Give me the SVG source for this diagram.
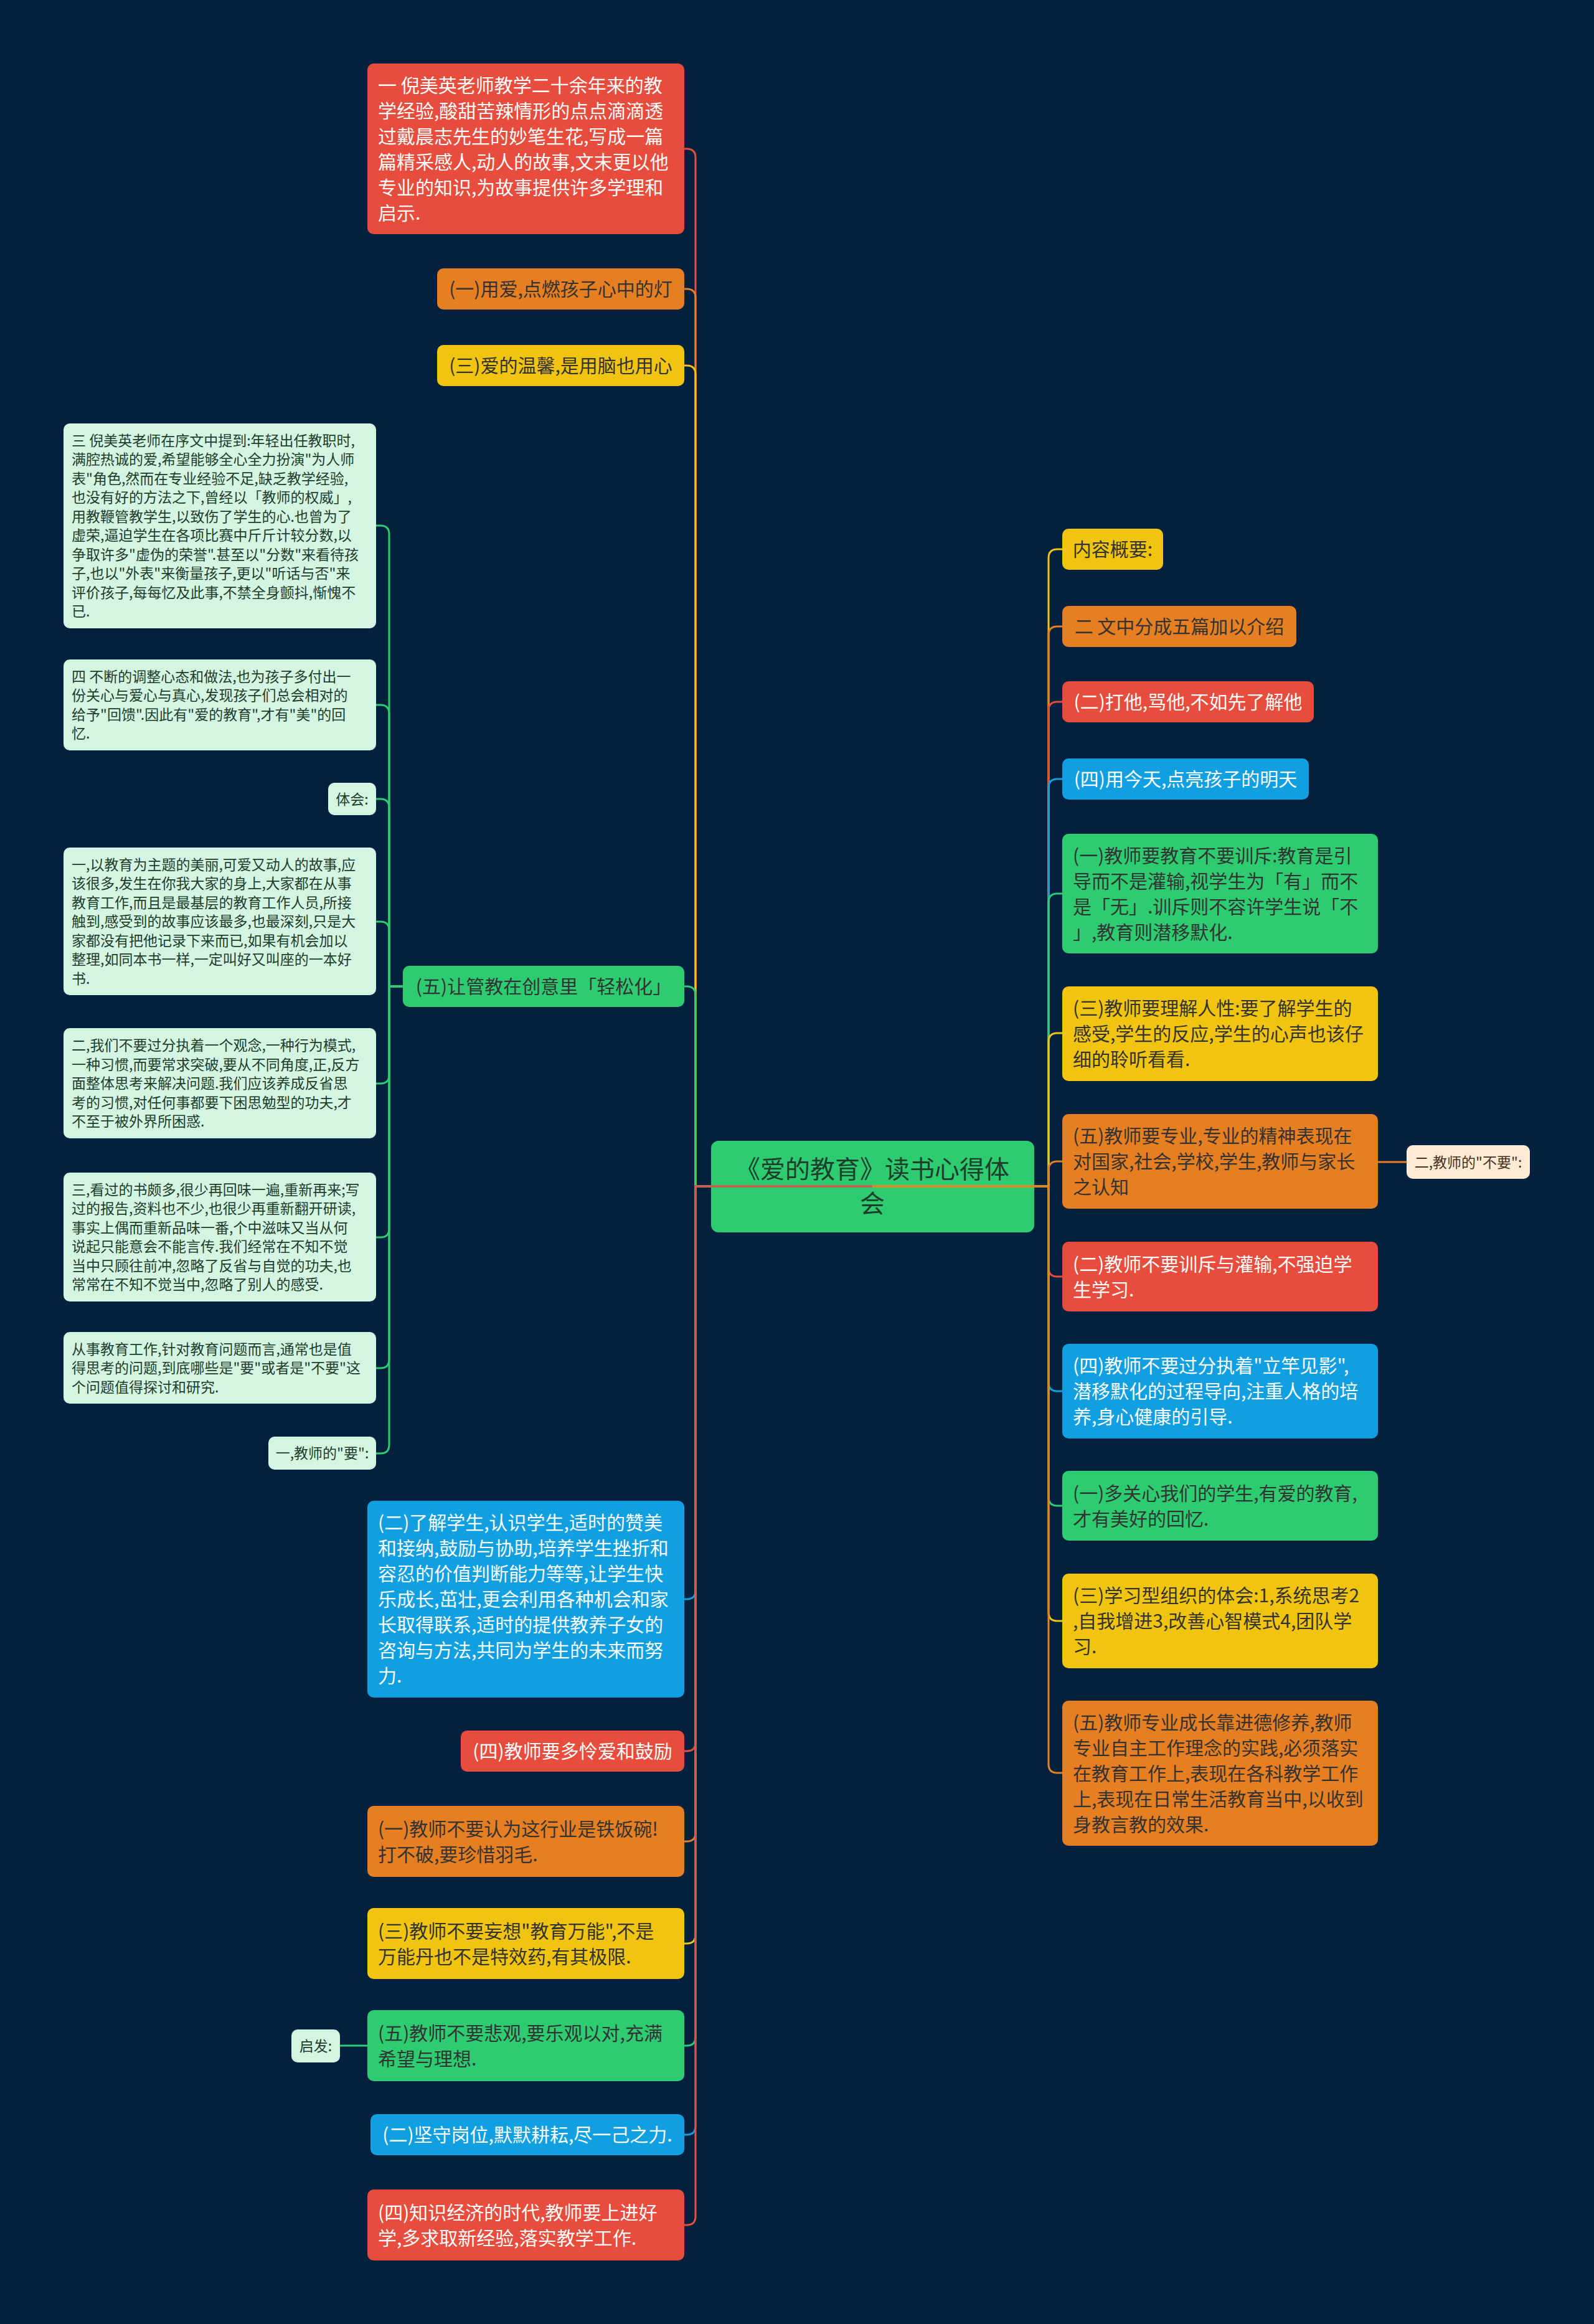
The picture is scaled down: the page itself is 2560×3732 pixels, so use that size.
<svg xmlns="http://www.w3.org/2000/svg" width="2560" height="3732" viewBox="0 0 2560 3732">
<style>
text { font-family: "Noto Sans CJK SC", "Noto Sans", sans-serif; }
.t30 { font-size: 30px; }
.t23 { font-size: 23px; }
.t40 { font-size: 40px; }
.w { fill: #ffffff; }
.d { fill: #333333; }
.g { fill: #1e3d2b; }
.p { fill: #4a3020; }
.red { fill: #e74c3c; }
.ora { fill: #e67e22; }
.yel { fill: #f1c40f; }
.grn { fill: #2ecc71; }
.blu { fill: #109fe0; }
.lg { fill: #d5f5e3; }
.pe { fill: #fdebd4; }
.c { fill: none; stroke-width: 3; }
.cr { stroke: #e74c3c; }
.co { stroke: #e67e22; }
.cy { stroke: #f1c40f; }
.cg { stroke: #2ecc71; }
.cb { stroke: #109fe0; }
.mid { text-anchor: middle; }
</style>
<rect x="0" y="0" width="2560" height="3732" fill="#03213f"/>

<g id="root">
<rect class="grn" x="1142" y="1832" width="519" height="147" rx="12"/>
<text class="t40 g mid" x="1401" y="1892">《爱的教育》读书心得体</text>
<text class="t40 g mid" x="1401" y="1947">会</text>
</g>

<g id="connectors">
<path class="c cr" d="M1401 1905 H1117 V253 Q1117 239 1103 239 H1099"/>
<path class="c co" d="M1401 1905 H1117 V478 Q1117 464 1103 464 H1099"/>
<path class="c cy" d="M1401 1905 H1117 V601 Q1117 587 1103 587 H1099"/>
<path class="c cg" d="M1401 1905 H1117 V1598 Q1117 1584 1103 1584 H1099"/>
<path class="c cb" d="M1401 1905 H1117 V2554 Q1117 2568 1103 2568 H1099"/>
<path class="c cr" d="M1401 1905 H1117 V2798 Q1117 2812 1103 2812 H1099"/>
<path class="c co" d="M1401 1905 H1117 V2943 Q1117 2957 1103 2957 H1099"/>
<path class="c cy" d="M1401 1905 H1117 V3107 Q1117 3121 1103 3121 H1099"/>
<path class="c cg" d="M1401 1905 H1117 V3271 Q1117 3285 1103 3285 H1099"/>
<path class="c cb" d="M1401 1905 H1117 V3414 Q1117 3428 1103 3428 H1099"/>
<path class="c cr" d="M1401 1905 H1117 V3559 Q1117 3573 1103 3573 H1099"/>

<path class="c cy" d="M1401 1905 H1684 V896 Q1684 882 1698 882 H1706"/>
<path class="c co" d="M1401 1905 H1684 V1020 Q1684 1006 1698 1006 H1706"/>
<path class="c cr" d="M1401 1905 H1684 V1141 Q1684 1127 1698 1127 H1706"/>
<path class="c cb" d="M1401 1905 H1684 V1265 Q1684 1251 1698 1251 H1706"/>
<path class="c cg" d="M1401 1905 H1684 V1449 Q1684 1435 1698 1435 H1706"/>
<path class="c cy" d="M1401 1905 H1684 V1673 Q1684 1659 1698 1659 H1706"/>
<path class="c co" d="M1401 1905 H1684 V1879 Q1684 1865 1698 1865 H1706"/>
<path class="c cr" d="M1401 1905 H1684 V2036 Q1684 2050 1698 2050 H1706"/>
<path class="c cb" d="M1401 1905 H1684 V2220 Q1684 2234 1698 2234 H1706"/>
<path class="c cg" d="M1401 1905 H1684 V2404 Q1684 2418 1698 2418 H1706"/>
<path class="c cy" d="M1401 1905 H1684 V2589 Q1684 2603 1698 2603 H1706"/>
<path class="c co" d="M1401 1905 H1684 V2833 Q1684 2847 1698 2847 H1706"/>

<path class="c cg" d="M647 1584 H625 V858 Q625 844 611 844 H604"/>
<path class="c cg" d="M647 1584 H625 V1146 Q625 1132 611 1132 H604"/>
<path class="c cg" d="M647 1584 H625 V1297 Q625 1283 611 1283 H604"/>
<path class="c cg" d="M647 1584 H625 V1494 Q625 1480 611 1480 H604"/>
<path class="c cg" d="M647 1584 H625 V1726 Q625 1740 611 1740 H604"/>
<path class="c cg" d="M647 1584 H625 V1973 Q625 1987 611 1987 H604"/>
<path class="c cg" d="M647 1584 H625 V2183 Q625 2197 611 2197 H604"/>
<path class="c cg" d="M647 1584 H625 V2320 Q625 2334 611 2334 H604"/>

<path class="c co" d="M2213 1866 H2259"/>
<path class="c cg" d="M590 3285 H546"/>
</g>

<g id="n-l1">
<rect class="red" x="590" y="102" width="509" height="274" rx="10"/>
<text class="t30 w" x="607" y="147.5">一 倪美英老师教学二十余年来的教</text>
<text class="t30 w" x="607" y="188.5">学经验,酸甜苦辣情形的点点滴滴透</text>
<text class="t30 w" x="607" y="229.5">过戴晨志先生的妙笔生花,写成一篇</text>
<text class="t30 w" x="607" y="270.5">篇精采感人,动人的故事,文末更以他</text>
<text class="t30 w" x="607" y="311.5">专业的知识,为故事提供许多学理和</text>
<text class="t30 w" x="607" y="352.5">启示.</text>
</g>
<g id="n-l2">
<rect class="ora" x="702" y="431" width="397" height="66" rx="10"/>
<text class="t30 d mid" x="900.5" y="475">(一)用爱,点燃孩子心中的灯</text>
</g>
<g id="n-l3">
<rect class="yel" x="702" y="554" width="397" height="66" rx="10"/>
<text class="t30 d mid" x="900.5" y="598">(三)爱的温馨,是用脑也用心</text>
</g>

<g id="n-s1">
<rect class="lg" x="102" y="680" width="502" height="329" rx="10"/>
<text class="t23 g" x="115" y="715.8">三 倪美英老师在序文中提到:年轻出任教职时,</text>
<text class="t23 g" x="115" y="746.3">满腔热诚的爱,希望能够全心全力扮演"为人师</text>
<text class="t23 g" x="115" y="776.8">表"角色,然而在专业经验不足,缺乏教学经验,</text>
<text class="t23 g" x="115" y="807.3">也没有好的方法之下,曾经以「教师的权威」,</text>
<text class="t23 g" x="115" y="837.8">用教鞭管教学生,以致伤了学生的心.也曾为了</text>
<text class="t23 g" x="115" y="868.3">虚荣,逼迫学生在各项比赛中斤斤计较分数,以</text>
<text class="t23 g" x="115" y="898.8">争取许多"虚伪的荣誉".甚至以"分数"来看待孩</text>
<text class="t23 g" x="115" y="929.3">子,也以"外表"来衡量孩子,更以"听话与否"来</text>
<text class="t23 g" x="115" y="959.8">评价孩子,每每忆及此事,不禁全身颤抖,惭愧不</text>
<text class="t23 g" x="115" y="990.3">已.</text>
</g>
<g id="n-s2">
<rect class="lg" x="102" y="1059" width="502" height="146" rx="10"/>
<text class="t23 g" x="115" y="1094.8">四 不断的调整心态和做法,也为孩子多付出一</text>
<text class="t23 g" x="115" y="1125.3">份关心与爱心与真心,发现孩子们总会相对的</text>
<text class="t23 g" x="115" y="1155.8">给予"回馈".因此有"爱的教育",才有"美"的回</text>
<text class="t23 g" x="115" y="1186.3">忆.</text>
</g>
<g id="n-s3">
<rect class="lg" x="527" y="1257" width="77" height="52" rx="10"/>
<text class="t23 g mid" x="565.5" y="1291.5">体会:</text>
</g>
<g id="n-s4">
<rect class="lg" x="102" y="1361" width="502" height="237" rx="10"/>
<text class="t23 g" x="115" y="1396.5">一,以教育为主题的美丽,可爱又动人的故事,应</text>
<text class="t23 g" x="115" y="1427">该很多,发生在你我大家的身上,大家都在从事</text>
<text class="t23 g" x="115" y="1457.5">教育工作,而且是最基层的教育工作人员,所接</text>
<text class="t23 g" x="115" y="1488">触到,感受到的故事应该最多,也最深刻,只是大</text>
<text class="t23 g" x="115" y="1518.5">家都没有把他记录下来而已,如果有机会加以</text>
<text class="t23 g" x="115" y="1549">整理,如同本书一样,一定叫好又叫座的一本好</text>
<text class="t23 g" x="115" y="1579.5">书.</text>
</g>
<g id="n-s5">
<rect class="lg" x="102" y="1651" width="502" height="177" rx="10"/>
<text class="t23 g" x="115" y="1687">二,我们不要过分执着一个观念,一种行为模式,</text>
<text class="t23 g" x="115" y="1717.5">一种习惯,而要常求突破,要从不同角度,正,反方</text>
<text class="t23 g" x="115" y="1748">面整体思考来解决问题.我们应该养成反省思</text>
<text class="t23 g" x="115" y="1778.5">考的习惯,对任何事都要下困思勉型的功夫,才</text>
<text class="t23 g" x="115" y="1809">不至于被外界所困惑.</text>
</g>
<g id="n-s6">
<rect class="lg" x="102" y="1883" width="502" height="207" rx="10"/>
<text class="t23 g" x="115" y="1918.8">三,看过的书颇多,很少再回味一遍,重新再来;写</text>
<text class="t23 g" x="115" y="1949.3">过的报告,资料也不少,也很少再重新翻开研读,</text>
<text class="t23 g" x="115" y="1979.8">事实上偶而重新品味一番,个中滋味又当从何</text>
<text class="t23 g" x="115" y="2010.3">说起只能意会不能言传.我们经常在不知不觉</text>
<text class="t23 g" x="115" y="2040.8">当中只顾往前冲,忽略了反省与自觉的功夫,也</text>
<text class="t23 g" x="115" y="2071.3">常常在不知不觉当中,忽略了别人的感受.</text>
</g>
<g id="n-s7">
<rect class="lg" x="102" y="2139" width="502" height="115" rx="10"/>
<text class="t23 g" x="115" y="2174.5">从事教育工作,针对教育问题而言,通常也是值</text>
<text class="t23 g" x="115" y="2205">得思考的问题,到底哪些是"要"或者是"不要"这</text>
<text class="t23 g" x="115" y="2235.5">个问题值得探讨和研究.</text>
</g>
<g id="n-s8">
<rect class="lg" x="431" y="2307" width="173" height="53" rx="10"/>
<text class="t23 g mid" x="517.5" y="2342">一,教师的"要":</text>
</g>

<g id="n-l4">
<rect class="grn" x="647" y="1551" width="452" height="66" rx="10"/>
<text class="t30 d mid" x="873" y="1595">(五)让管教在创意里「轻松化」</text>
</g>
<g id="n-l5">
<rect class="blu" x="590" y="2410" width="509" height="316" rx="10"/>
<text class="t30 w" x="607" y="2456">(二)了解学生,认识学生,适时的赞美</text>
<text class="t30 w" x="607" y="2497">和接纳,鼓励与协助,培养学生挫折和</text>
<text class="t30 w" x="607" y="2538">容忍的价值判断能力等等,让学生快</text>
<text class="t30 w" x="607" y="2579">乐成长,茁壮,更会利用各种机会和家</text>
<text class="t30 w" x="607" y="2620">长取得联系,适时的提供教养子女的</text>
<text class="t30 w" x="607" y="2661">咨询与方法,共同为学生的未来而努</text>
<text class="t30 w" x="607" y="2702">力.</text>
</g>
<g id="n-l6">
<rect class="red" x="740" y="2779" width="359" height="66" rx="10"/>
<text class="t30 w mid" x="919.5" y="2823">(四)教师要多怜爱和鼓励</text>
</g>
<g id="n-l7">
<rect class="ora" x="590" y="2900" width="509" height="114" rx="10"/>
<text class="t30 d" x="607" y="2947.5">(一)教师不要认为这行业是铁饭碗!</text>
<text class="t30 d" x="607" y="2988.5">打不破,要珍惜羽毛.</text>
</g>
<g id="n-l8">
<rect class="yel" x="590" y="3064" width="509" height="114" rx="10"/>
<text class="t30 d" x="607" y="3111.5">(三)教师不要妄想"教育万能",不是</text>
<text class="t30 d" x="607" y="3152.5">万能丹也不是特效药,有其极限.</text>
</g>
<g id="n-l9">
<rect class="grn" x="590" y="3228" width="509" height="114" rx="10"/>
<text class="t30 d" x="607" y="3275.5">(五)教师不要悲观,要乐观以对,充满</text>
<text class="t30 d" x="607" y="3316.5">希望与理想.</text>
</g>
<g id="n-qf">
<rect class="lg" x="468" y="3259" width="78" height="53" rx="10"/>
<text class="t23 g mid" x="507" y="3294">启发:</text>
</g>
<g id="n-l10">
<rect class="blu" x="595" y="3395" width="504" height="66" rx="10"/>
<text class="t30 w mid" x="847" y="3439">(二)坚守岗位,默默耕耘,尽一己之力.</text>
</g>
<g id="n-l11">
<rect class="red" x="590" y="3516" width="509" height="114" rx="10"/>
<text class="t30 w" x="607" y="3563.5">(四)知识经济的时代,教师要上进好</text>
<text class="t30 w" x="607" y="3604.5">学,多求取新经验,落实教学工作.</text>
</g>

<g id="n-r1">
<rect class="yel" x="1706" y="849" width="162" height="66" rx="10"/>
<text class="t30 d mid" x="1787" y="893">内容概要:</text>
</g>
<g id="n-r2">
<rect class="ora" x="1706" y="973" width="376" height="66" rx="10"/>
<text class="t30 d mid" x="1894" y="1017">二 文中分成五篇加以介绍</text>
</g>
<g id="n-r3">
<rect class="red" x="1706" y="1094" width="404" height="66" rx="10"/>
<text class="t30 w mid" x="1908" y="1138">(二)打他,骂他,不如先了解他</text>
</g>
<g id="n-r4">
<rect class="blu" x="1706" y="1218" width="396" height="66" rx="10"/>
<text class="t30 w mid" x="1904" y="1262">(四)用今天,点亮孩子的明天</text>
</g>
<g id="n-r5">
<rect class="grn" x="1706" y="1339" width="507" height="192" rx="10"/>
<text class="t30 d" x="1723" y="1384.5">(一)教师要教育不要训斥:教育是引</text>
<text class="t30 d" x="1723" y="1425.5">导而不是灌输,视学生为「有」而不</text>
<text class="t30 d" x="1723" y="1466.5">是「无」.训斥则不容许学生说「不</text>
<text class="t30 d" x="1723" y="1507.5">」,教育则潜移默化.</text>
</g>
<g id="n-r6">
<rect class="yel" x="1706" y="1584" width="507" height="152" rx="10"/>
<text class="t30 d" x="1723" y="1630">(三)教师要理解人性:要了解学生的</text>
<text class="t30 d" x="1723" y="1671">感受,学生的反应,学生的心声也该仔</text>
<text class="t30 d" x="1723" y="1712">细的聆听看看.</text>
</g>
<g id="n-r7">
<rect class="ora" x="1706" y="1789" width="507" height="152" rx="10"/>
<text class="t30 d" x="1723" y="1835">(五)教师要专业,专业的精神表现在</text>
<text class="t30 d" x="1723" y="1876">对国家,社会,学校,学生,教师与家长</text>
<text class="t30 d" x="1723" y="1917">之认知</text>
</g>
<g id="n-bu">
<rect class="pe" x="2259" y="1839" width="198" height="54" rx="10"/>
<text class="t23 p mid" x="2358" y="1874.5">二,教师的"不要":</text>
</g>
<g id="n-r8">
<rect class="red" x="1706" y="1994" width="507" height="112" rx="10"/>
<text class="t30 w" x="1723" y="2040.5">(二)教师不要训斥与灌输,不强迫学</text>
<text class="t30 w" x="1723" y="2081.5">生学习.</text>
</g>
<g id="n-r9">
<rect class="blu" x="1706" y="2158" width="507" height="152" rx="10"/>
<text class="t30 w" x="1723" y="2204">(四)教师不要过分执着"立竿见影",</text>
<text class="t30 w" x="1723" y="2245">潜移默化的过程导向,注重人格的培</text>
<text class="t30 w" x="1723" y="2286">养,身心健康的引导.</text>
</g>
<g id="n-r10">
<rect class="grn" x="1706" y="2362" width="507" height="112" rx="10"/>
<text class="t30 d" x="1723" y="2408.5">(一)多关心我们的学生,有爱的教育,</text>
<text class="t30 d" x="1723" y="2449.5">才有美好的回忆.</text>
</g>
<g id="n-r11">
<rect class="yel" x="1706" y="2527" width="507" height="152" rx="10"/>
<text class="t30 d" x="1723" y="2573">(三)学习型组织的体会:1,系统思考2</text>
<text class="t30 d" x="1723" y="2614">,自我增进3,改善心智模式4,团队学</text>
<text class="t30 d" x="1723" y="2655">习.</text>
</g>
<g id="n-r12">
<rect class="ora" x="1706" y="2731" width="507" height="233" rx="10"/>
<text class="t30 d" x="1723" y="2776.5">(五)教师专业成长靠进德修养,教师</text>
<text class="t30 d" x="1723" y="2817.5">专业自主工作理念的实践,必须落实</text>
<text class="t30 d" x="1723" y="2858.5">在教育工作上,表现在各科教学工作</text>
<text class="t30 d" x="1723" y="2899.5">上,表现在日常生活教育当中,以收到</text>
<text class="t30 d" x="1723" y="2940.5">身教言教的效果.</text>
</g>
</svg>
